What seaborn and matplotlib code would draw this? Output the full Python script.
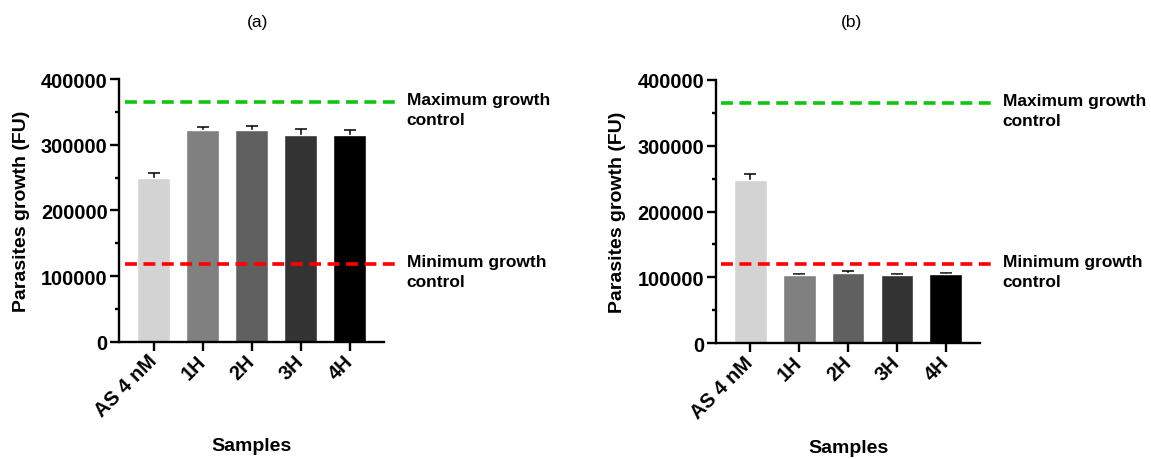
import numpy as np
import pandas as pd
import matplotlib
matplotlib.use("Agg")
import matplotlib.pyplot as plt
import matplotlib.transforms as mtransforms
import seaborn as sns
from matplotlib.ticker import MultipleLocator, StrMethodFormatter

# values
samples = ["AS 4 nM", "1H", "2H", "3H", "4H"]
bar_colors = ["#d3d3d3", "#808080", "#606060", "#333333", "#000000"]

growth_a = [249200, 322800, 322300, 314700, 314700]
err_a = [8200, 4000, 5600, 8600, 7600]
growth_b = [248100, 104100, 106700, 103200, 104700]
err_b = [8600, 1600, 3500, 1500, 2000]

max_ctrl = [364500, 364300]
min_ctrl = [118300, 120300]
panel_titles = ["(a)", "(b)"]

sns.set_style("ticks")
plt.rcParams['font.family'] = ['Liberation Sans', 'DejaVu Sans']
plt.rcParams['font.weight'] = 'bold'
plt.rcParams['axes.labelweight'] = 'bold'
plt.rcParams['text.color'] = 'black'
plt.rcParams['axes.labelcolor'] = 'black'
plt.rcParams['xtick.color'] = 'black'
plt.rcParams['ytick.color'] = 'black'

fig = plt.figure(figsize=(11.51, 4.6), dpi=100)
ax_a = fig.add_axes([0.1037, 0.255, 0.2300, 0.571])
ax_b = fig.add_axes([0.6221, 0.2515, 0.2294, 0.573])
title_x = [258 / 1151, 852 / 1151]

panels = [(ax_a, growth_a, err_a), (ax_b, growth_b, err_b)]
for i, (ax, growth, err) in enumerate(panels):
    df = pd.DataFrame({'Sample': samples, 'Growth': growth})
    sns.barplot(data=df, x='Sample', y='Growth', hue='Sample', palette=bar_colors,
                legend=False, width=0.67, saturation=1, ax=ax, zorder=2)
    # symmetric bars drawn behind, so only the upper half shows
    ax.errorbar(np.arange(len(samples)), growth, yerr=err,
                fmt='none', ecolor='black', elinewidth=1.1, capsize=4.5, capthick=1.1, zorder=1)

    ax.set_xlim(-0.7, 4.7)
    ax.set_ylim(0, 400000)
    ax.yaxis.set_major_locator(MultipleLocator(100000))
    ax.yaxis.set_minor_locator(MultipleLocator(50000))
    ax.yaxis.set_major_formatter(StrMethodFormatter('{x:.0f}'))

    for s in ['top', 'right']:
        ax.spines[s].set_visible(False)
    for s in ['left', 'bottom']:
        ax.spines[s].set_linewidth(1.7)
        ax.spines[s].set_color('black')
    ax.tick_params(axis='both', which='major', width=1.7, length=6.5, color='black',
                   labelsize=14.4, pad=2, labelcolor='black')
    ax.tick_params(axis='x', which='major', pad=5)
    ax.tick_params(axis='y', which='minor', width=1.7, length=3, color='black')
    ax.set_xticks(range(len(samples)))
    ax.set_xticklabels(samples, rotation=45, ha='right', va='center',
                       rotation_mode='anchor', fontweight='bold')
    for lab in ax.get_yticklabels():
        lab.set_fontweight('bold')

    ax.set_ylabel("Parasites growth (FU)", fontsize=14, labelpad=8)
    ax.set_xlabel("Samples", fontsize=14, labelpad=12)

    ytr = ax.get_yaxis_transform()
    ax.plot([0.02, 1.055], [max_ctrl[i]] * 2, transform=ytr, color='#11c411', lw=2.6,
            dashes=(3.3, 1.8), clip_on=False, zorder=4)
    ax.plot([0.02, 1.055], [min_ctrl[i]] * 2, transform=ytr, color='#ff0000', lw=2.6,
            dashes=(3.3, 1.8), clip_on=False, zorder=4)
    txt_tr = mtransforms.offset_copy(ytr, fig=fig, x=0, y=7.2, units='points')
    ax.text(1.085, max_ctrl[i], "Maximum growth\ncontrol", transform=txt_tr,
            fontsize=12.5, fontweight='bold', va='top', ha='left', linespacing=1.4)
    ax.text(1.085, min_ctrl[i], "Minimum growth\ncontrol", transform=txt_tr,
            fontsize=12.5, fontweight='bold', va='top', ha='left', linespacing=1.4)

    fig.text(title_x[i], 1 - 22 / 460, panel_titles[i], ha='center', va='center',
             fontsize=12.5, fontweight='normal')

fig.savefig("out.png", dpi=100)
